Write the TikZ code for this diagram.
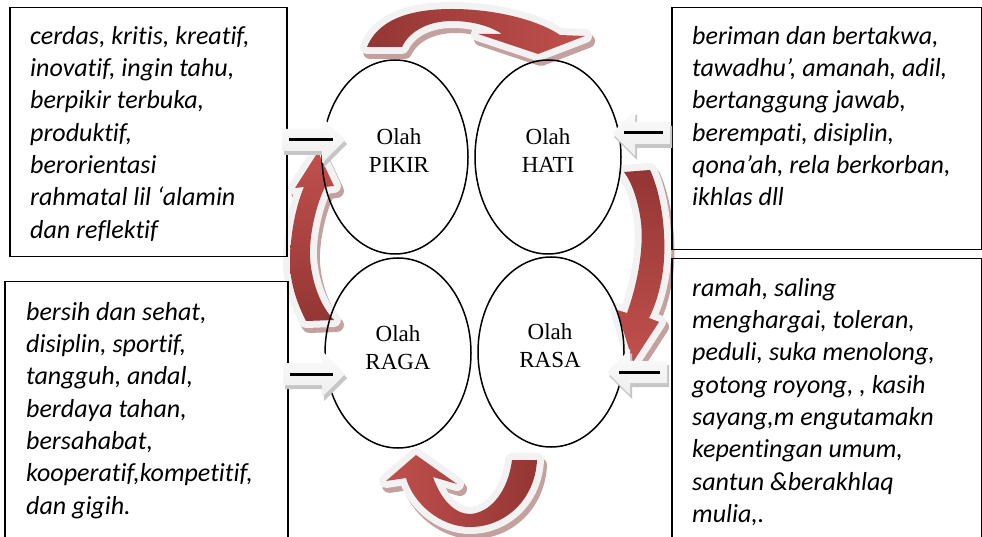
\documentclass[tikz,border=0pt]{standalone}
\usepackage{fontspec}
\setmainfont{Liberation Serif}
\newfontfamily\boxfont[RawFeature={-liga;-clig;-dlig}]{Carlito}
\usetikzlibrary{shapes.geometric}
\definecolor{darkred}{HTML}{943634}
\definecolor{lightred}{HTML}{C0504D}
\definecolor{olgray}{HTML}{F2F2F2}
\definecolor{shadowred}{HTML}{C4A09F}
\definecolor{shadowgray}{HTML}{C6C6C6}
\newcommand\curvarrow[2]{%
  \path[fill=shadowred,draw=shadowred,line width=14pt,line join=round,shift={(3,5)}] #1;
  \path[fill=olgray,draw=olgray,line width=14pt,line join=round] #1;
  \path[#2] #1;}
\newcommand\blockarr[4]{% tip x, centre y, tail x, direction (+1 right, -1 left)
  \fill[shadowgray,shift={(2,4)}] (#3,#2-11) -- ({#1-#4*23},#2-11) -- ({#1-#4*23},#2-23) -- (#1,#2)
     -- ({#1-#4*23},#2+23) -- ({#1-#4*23},#2+11) -- (#3,#2+11) -- cycle;
  \path[top color=gray!3,bottom color=gray!13] (#3,#2-11) -- ({#1-#4*23},#2-11) -- ({#1-#4*23},#2-23) -- (#1,#2)
     -- ({#1-#4*23},#2+23) -- ({#1-#4*23},#2+11) -- (#3,#2+11) -- cycle;
  \draw[line width=3pt] ({#3+#4*7},#2) -- ({#1-#4*12},#2);}
\begin{document}
\begin{tikzpicture}[x=1pt,y=-1pt,
  boxsty/.style={draw,line width=1.5pt,inner sep=0,anchor=north west},
  ellip/.style={ellipse,draw,line width=1.5pt,inner sep=0,minimum width=146,minimum height=194},
  etext/.style={font=\fontsize{23}{28}\selectfont,align=center,inner sep=0},
  txt/.style={align=left,inner sep=0,anchor=north west,font=\boxfont\itshape\fontsize{26}{32.3}\selectfont}]
\useasboundingbox (0,0) rectangle (982,537);
\clip (0,0) rectangle (982,537);

% curved arrows
\curvarrow{(367,47) .. controls (380,15) and (420,9) .. (452,9) .. controls (495,9) and (538,20) .. (560,35) -- (585,36) -- (538,54) -- (478,34) -- (502,34) .. controls (490,26) and (472,21) .. (452,21) .. controls (430,21) and (410,30) .. (402,47) -- cycle}{left color=darkred,right color=lightred}
\curvarrow{(624,172) -- (650,170) .. controls (664,200) and (668,250) .. (661,282) .. controls (658,297) and (654,308) .. (649,318) -- (659,322) -- (633,362) -- (617,310) -- (627,313) .. controls (637,285) and (644,250) .. (641,222) .. controls (638,200) and (632,183) .. (624,172) -- cycle}{top color=darkred,bottom color=lightred}
\curvarrow{(512,460) -- (537,460) .. controls (535,500) and (505,527) .. (470,527) .. controls (440,527) and (413,503) .. (406,478) -- (386,481) -- (416,455) -- (457,484) -- (433,477) .. controls (441,500) and (455,514) .. (470,514) .. controls (490,513) and (508,492) .. (512,460) -- cycle}{left color=lightred,right color=darkred}
\curvarrow{(306,321) .. controls (298,305) and (290,285) .. (290,262) .. controls (290,235) and (296,205) .. (304,187) -- (295,188) -- (318,152) -- (334,186) -- (325,187) .. controls (316,205) and (309,235) .. (310,258) .. controls (312,285) and (322,308) .. (334,320) -- cycle}{top color=lightred,bottom color=darkred}

% ellipses
\node[ellip] (pikir) at (395,157) {};
\node[ellip] (hati) at (548,157) {};
\node[ellip,minimum height=190] (raga) at (398,353) {};
\node[ellip,minimum height=190] (rasa) at (551,352) {};
\node[etext] (pikirt) at (399,151) {Olah\\PIKIR};
\node[etext] (hatit) at (548,151) {Olah\\HATI};
\node[etext] (ragat) at (398,348) {Olah\\RAGA};
\node[etext] (rasat) at (550,346) {Olah\\RASA};

% boxes
\node[boxsty,minimum width=277,minimum height=249] (tlbox) at (9,7) {};
\node[boxsty,minimum width=310,minimum height=242] (trbox) at (671,7) {};
\node[boxsty,minimum width=283,minimum height=300] (blbox) at (4,281) {};
\node[boxsty,minimum width=310,minimum height=300] (brbox) at (671,258) {};

\node[txt] (tltext) at (30,26) {cerdas, kritis, kreatif,\\inovatif, ingin tahu,\\berpikir terbuka,\\produktif,\\berorientasi\\rahmatal lil ‘alamin\\dan reflektif};
\node[txt] (trtext) at (692,26) {beriman dan bertakwa,\\tawadhu’, amanah, adil,\\bertanggung jawab,\\berempati, disiplin,\\qona’ah, rela berkorban,\\ikhlas dll};
\node[txt] (bltext) at (26,302) {bersih dan sehat,\\disiplin, sportif,\\tangguh, andal,\\berdaya tahan,\\bersahabat,\\kooperatif,kompetitif,\\dan gigih.};
\node[txt] (brtext) at (692,278) {ramah, saling\\menghargai, toleran,\\peduli, suka menolong,\\gotong royong, , kasih\\sayang,m engutamakn\\kepentingan umum,\\santun \&berakhlaq\\mulia,.};

% small block arrows
\blockarr{345}{140}{282}{1}
\blockarr{345}{374}{283}{1}
\blockarr{612}{133}{670}{-1}
\blockarr{607}{372}{667}{-1}
\end{tikzpicture}
\end{document}
